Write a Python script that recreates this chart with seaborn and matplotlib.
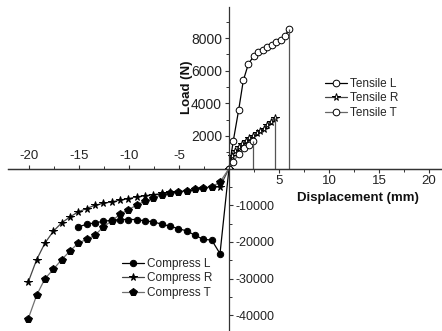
import matplotlib
matplotlib.use("Agg")
import matplotlib.pyplot as plt
import seaborn as sns
import pandas as pd
from matplotlib.ticker import FixedLocator

# ---------------- data ----------------
tensile_L_x = [0, 0.43, 0.97, 1.43, 1.93, 2.47, 2.93, 3.37, 3.8, 4.27, 4.7, 5.17, 5.6, 5.97]
tensile_L_y = [0, 1700, 3600, 5400, 6400, 6900, 7150, 7300, 7450, 7600, 7750, 7900, 8100, 8550]

tensile_R_x = [0, 0.3, 0.65, 1.0, 1.35, 1.7, 2.05, 2.4, 2.75, 3.1, 3.45, 3.8, 4.15, 4.55]
tensile_R_y = [0, 750, 1050, 1300, 1500, 1700, 1850, 1980, 2150, 2300, 2450, 2650, 2850, 3100]

tensile_T_x = [0, 0.43, 0.97, 1.47, 1.97, 2.43]
tensile_T_y = [0, 420, 890, 1240, 1440, 1700]

compress_L_x = [-15.07, -14.23, -13.4, -12.57, -11.73, -10.9, -10.07, -9.23, -8.4, -7.57,
                -6.73, -5.9, -5.07, -4.23, -3.4, -2.57, -1.73, -0.9, 0]
compress_L_y = [-15900, -15200, -14800, -14400, -14100, -13900, -13900, -13900, -14300, -14500,
                -15200, -15700, -16400, -17000, -18200, -19300, -19500, -23200, 0]

compress_R_x = [-20.07, -19.23, -18.4, -17.57, -16.73, -15.9, -15.07, -14.23, -13.4, -12.57,
                -11.73, -10.9, -10.07, -9.23, -8.4, -7.57, -6.73, -5.9, -5.07, -4.23,
                -3.4, -2.57, -1.73, -0.9, 0]
compress_R_y = [-30900, -24800, -20300, -17100, -14800, -13200, -11800, -10900, -10000, -9500,
                -9100, -8600, -8200, -7700, -7400, -7100, -6800, -6500, -6400, -6100,
                -5700, -5400, -5000, -5000, 0]

compress_T_x = [-20.07, -19.23, -18.4, -17.57, -16.73, -15.9, -15.07, -14.23, -13.4, -12.57,
                -11.73, -10.9, -10.07, -9.23, -8.4, -7.57, -6.73, -5.9, -5.07, -4.23,
                -3.4, -2.57, -1.73, -0.9, 0]
compress_T_y = [-40900, -34500, -30000, -27500, -24800, -22500, -20300, -19300, -18200, -15900,
                -14300, -12500, -11200, -10000, -8800, -8000, -7200, -6700, -6400, -6000,
                -5700, -5400, -5000, -3700, 0]

x_major_neg = [-20, -15, -10, -5]
x_major_pos = [5, 10, 15, 20]
y_major_pos = [2000, 4000, 6000, 8000]
y_major_neg = [-40000, -30000, -20000, -10000]

# ---------------- style ----------------
sns.set_theme(style="white")
plt.rcParams['font.family'] = ['Liberation Sans', 'DejaVu Sans']
plt.rcParams['axes.unicode_minus'] = False

W, H = 442, 331
fig = plt.figure(figsize=(W / 100, H / 100), dpi=100)
zero_py = 168.5
zf = (H - zero_py) / H
ax_t = fig.add_axes([0, zf, 1, 1 - zf])
ax_b = fig.add_axes([0, 0, 1, zf])


# ---------------- series ----------------
def draw(ax, xs, ys, label, color, marker, ms, mfc, skip_last=False):
    df = pd.DataFrame({'x': xs, 'y': ys})
    n = len(xs)
    me = list(range(n - 1)) if skip_last else None
    sns.lineplot(data=df, x='x', y='y', ax=ax, sort=False, estimator=None,
                 color=color, linewidth=0.9, marker=marker, markersize=ms,
                 markerfacecolor=mfc, markeredgecolor='black', markeredgewidth=0.7,
                 markevery=me, label=label, legend=False)


draw(ax_t, tensile_L_x, tensile_L_y, 'Tensile L', 'black', 'o', 4.8, 'white')
draw(ax_t, tensile_R_x, tensile_R_y, 'Tensile R', '#444444', '*', 5.5, 'white')
draw(ax_t, tensile_T_x, tensile_T_y, 'Tensile T', '#666666', 'o', 4.8, 'white')

# drop lines at the end of each tensile test
for xs, ys in ((tensile_L_x, tensile_L_y), (tensile_R_x, tensile_R_y), (tensile_T_x, tensile_T_y)):
    ax_t.vlines(xs[-1], 0, ys[-1], color='#555555', linewidth=0.9)

draw(ax_b, compress_L_x, compress_L_y, 'Compress L', 'black', 'o', 4.6, 'black', skip_last=True)
draw(ax_b, compress_R_x, compress_R_y, 'Compress R', '#444444', '*', 5.5, 'black', skip_last=True)
draw(ax_b, compress_T_x, compress_T_y, 'Compress T', '#707070', 'p', 5.4, 'black', skip_last=True)

# ---------------- axes ----------------
for a in (ax_t, ax_b):
    a.set_facecolor('none')
    a.set_xlim(-22.9, 21.3)
ax_t.set_ylim(0, zero_py * 61.35)
ax_b.set_ylim(-(H - zero_py) * 272.5, 0)

# top axes: negative x labels above axis, positive y on left
ax_t.spines['bottom'].set_visible(False)
ax_t.spines['right'].set_visible(False)
ax_t.spines['top'].set_position(('data', 0))
ax_t.spines['top'].set_bounds(-22.1, 21.2)
ax_t.spines['left'].set_position(('data', 0))
ax_t.spines['left'].set_bounds(0, 9900)
ax_t.xaxis.tick_top()
ax_t.xaxis.set_major_locator(FixedLocator(x_major_neg))
ax_t.xaxis.set_minor_locator(FixedLocator([-17.5, -12.5, -7.5, -2.5]))
ax_t.set_xticklabels([str(v) for v in x_major_neg])
ax_t.yaxis.tick_left()
ax_t.yaxis.set_major_locator(FixedLocator(y_major_pos))
ax_t.yaxis.set_minor_locator(FixedLocator([1000, 3000, 5000, 7000, 9000]))
ax_t.set_yticklabels([str(v) for v in y_major_pos])

# bottom axes: positive x labels below axis, negative y on right of axis
ax_b.spines['top'].set_visible(False)
ax_b.spines['left'].set_visible(False)
ax_b.spines['bottom'].set_position(('data', 0))
ax_b.spines['bottom'].set_bounds(-22.1, 21.2)
ax_b.spines['right'].set_position(('data', 0))
ax_b.spines['right'].set_bounds(-44000, 0)
ax_b.xaxis.tick_bottom()
ax_b.xaxis.set_major_locator(FixedLocator(x_major_pos))
ax_b.xaxis.set_minor_locator(FixedLocator([2.5, 7.5, 12.5, 17.5]))
ax_b.set_xticklabels([str(v) for v in x_major_pos])
ax_b.yaxis.tick_right()
ax_b.yaxis.set_major_locator(FixedLocator(y_major_neg))
ax_b.yaxis.set_minor_locator(FixedLocator([-35000, -25000, -15000, -5000]))
ax_b.set_yticklabels([str(v) for v in y_major_neg])

for a in (ax_t, ax_b):
    for s in a.spines.values():
        s.set_color('#333333')
        s.set_linewidth(0.9)
    a.tick_params(which='major', direction='out', length=3, width=0.8, color='#333333',
                  labelsize=9.5, labelcolor='#222222', pad=2)
    a.tick_params(which='minor', direction='out', length=2, width=0.7, color='#333333')
    a.set_xlabel('')
    a.set_ylabel('')
ax_t.tick_params(axis='y', which='major', labelsize=10)
ax_b.tick_params(axis='y', which='major', labelsize=9, pad=1.5)

leg_kw = dict(frameon=False, fontsize=8.5, handlelength=1.9, handletextpad=0.2,
              labelspacing=0.2, borderpad=0, borderaxespad=0, loc='upper left')
h, l = ax_t.get_legend_handles_labels()
ax_t.legend(h, l, bbox_to_anchor=(325 / W, 1 - 78 / H), bbox_transform=fig.transFigure, **leg_kw)
h, l = ax_b.get_legend_handles_labels()
ax_b.legend(h, l, bbox_to_anchor=(122 / W, 1 - 258 / H), bbox_transform=fig.transFigure, **leg_kw)

fig.text(297 / W, 1 - 198 / H, 'Displacement (mm)', fontsize=9.5, fontweight='bold',
         ha='left', va='center', color='#111111')
fig.text(187 / W, 1 - 87 / H, 'Load (N)', fontsize=9.5, fontweight='bold', rotation=90,
         ha='center', va='center', color='#111111')

fig.savefig('out.png', dpi=100)
